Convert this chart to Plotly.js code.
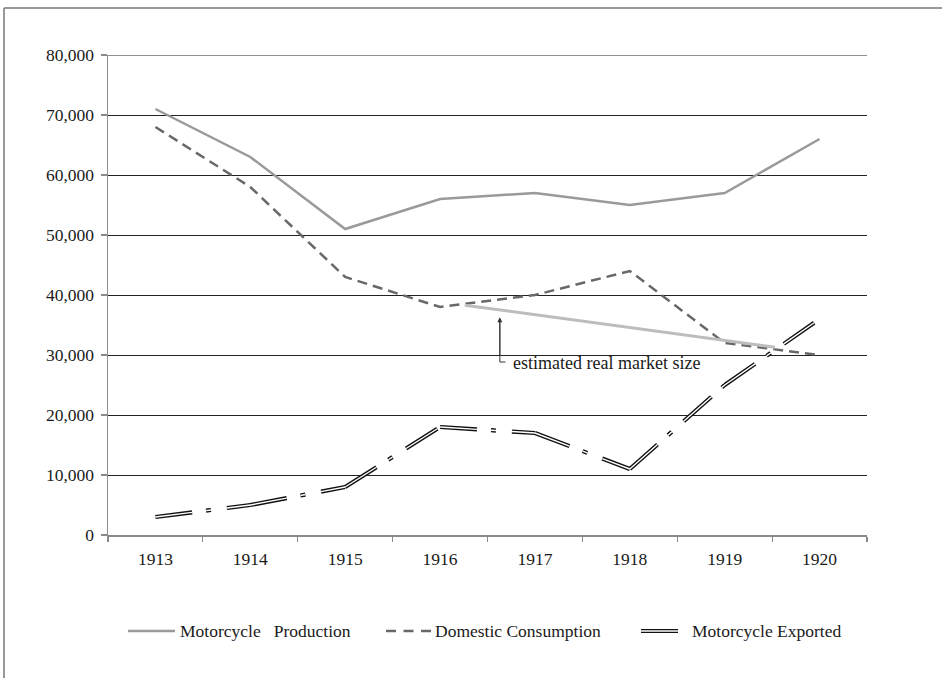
<!DOCTYPE html>
<html>
<head>
<meta charset="utf-8">
<script src="https://cdn.plot.ly/plotly-3.0.1.min.js"></script>
<style>html,body{margin:0;padding:0;background:#fff;}#chart{width:942px;height:678px;}</style>
</head>
<body>
<div id="chart"></div>
<script>
// ---- data ----
var years = [1913, 1914, 1915, 1916, 1917, 1918, 1919, 1920];
var yearLabels = ['1913', '1914', '1915', '1916', '1917', '1918', '1919', '1920'];
var production = [71000, 63000, 51000, 56000, 57000, 55000, 57000, 66000];
var domestic = [68000, 58000, 43000, 38000, 40000, 44000, 32000, 30000];
var exported = [3000, 5000, 8000, 18000, 17000, 11000, 25000, 36000];
var marketYears = [1916.26, 1919.53];
var marketSize = [38300, 31300];
var seriesNames = ['Motorcycle\u00A0\u00A0 Production', 'Domestic Consumption', 'Motorcycle Exported'];
var annotationText = 'estimated real market size';

// ---- styles ----
var FONT = 'Liberation Serif, Times New Roman, serif';
var TEXT = '#1a1a1a';
var exportDash = '37px,14px,5px,16px';

var traces = [];
traces.push({x: years, y: production, type: 'scatter', mode: 'lines', name: seriesNames[0],
  line: {color: '#9a9a9a', width: 2.5}, showlegend: false});
traces.push({x: years, y: domestic, type: 'scatter', mode: 'lines', name: seriesNames[1],
  line: {color: '#686868', width: 2.5, dash: '10px,6px'}, showlegend: false});
traces.push({x: marketYears, y: marketSize, type: 'scatter', mode: 'lines', name: annotationText,
  line: {color: '#bdbdbd', width: 3}, showlegend: false});
// exported: double dash-dot line, pattern restarts at each segment
var i;
for (i = 0; i < years.length - 1; i++) {
  traces.push({x: [years[i], years[i + 1]], y: [exported[i], exported[i + 1]], type: 'scatter', mode: 'lines',
    name: seriesNames[2], line: {color: '#111', width: 4.2, dash: exportDash}, showlegend: false});
}
for (i = 0; i < years.length - 1; i++) {
  traces.push({x: [years[i], years[i + 1]], y: [exported[i], exported[i + 1]], type: 'scatter', mode: 'lines',
    name: seriesNames[2], line: {color: '#fff', width: 1.4, dash: exportDash}, showlegend: false, hoverinfo: 'skip'});
}

var boundaries = [];
for (i = 0; i <= years.length; i++) boundaries.push(years[0] - 0.5 + i);

var legendY = -0.2;
var shapes = [
  // top gridline at the range edge
  {type: 'line', xref: 'paper', yref: 'y', x0: 0, x1: 1, y0: 80000, y1: 80000, line: {color: '#222', width: 1}, layer: 'below'},
  // outer frame (top and left)
  {type: 'line', xref: 'paper', yref: 'paper', x0: -0.137, x1: 1.2, y0: 1.098, y1: 1.098, line: {color: '#777', width: 1.5}},
  {type: 'line', xref: 'paper', yref: 'paper', x0: -0.137, x1: -0.137, y0: 1.098, y1: -0.35, line: {color: '#777', width: 1.5}},
  // legend symbols
  {type: 'line', xref: 'paper', yref: 'paper', x0: 0.0264, x1: 0.0883, y0: legendY, y1: legendY, line: {color: '#9a9a9a', width: 2.5}},
  {type: 'line', xref: 'paper', yref: 'paper', x0: 0.3663, x1: 0.4256, y0: legendY, y1: legendY, line: {color: '#686868', width: 2.5, dash: '10px,7.5px'}},
  {type: 'line', xref: 'paper', yref: 'paper', x0: 0.7022, x1: 0.751, y0: legendY, y1: legendY, line: {color: '#111', width: 4.2}},
  {type: 'line', xref: 'paper', yref: 'paper', x0: 0.7022, x1: 0.751, y0: legendY, y1: legendY, line: {color: '#fff', width: 1.4}},
  // annotation leader (L shape)
  {type: 'path', xref: 'x', yref: 'y', path: 'M 1916.63,35500 L 1916.63,28833 L 1916.69,28833', line: {color: '#333', width: 1}}
];

var annotations = [
  {x: 1916.63, y: 36300, xref: 'x', yref: 'y', text: '', showarrow: true, ax: 0, ay: 40,
    arrowhead: 2, arrowsize: 1, arrowwidth: 1, arrowcolor: '#333'},
  {x: 1916.75, y: 28700, xref: 'x', yref: 'y', text: annotationText, showarrow: false,
    xanchor: 'left', yanchor: 'middle', font: {family: FONT, size: 18, color: TEXT}},
  {x: 0.0922, y: legendY, xref: 'paper', yref: 'paper', text: seriesNames[0], showarrow: false,
    xanchor: 'left', yanchor: 'middle', font: {family: FONT, size: 17.5, color: TEXT}},
  {x: 0.4282, y: legendY, xref: 'paper', yref: 'paper', text: seriesNames[1], showarrow: false,
    xanchor: 'left', yanchor: 'middle', font: {family: FONT, size: 17.5, color: TEXT}},
  {x: 0.7668, y: legendY, xref: 'paper', yref: 'paper', text: seriesNames[2], showarrow: false,
    xanchor: 'left', yanchor: 'middle', font: {family: FONT, size: 17.5, color: TEXT}}
];

var layout = {
  width: 942, height: 678,
  margin: {l: 108, r: 75, t: 55, b: 143, pad: 0},
  paper_bgcolor: '#fff', plot_bgcolor: '#fff',
  font: {family: FONT, size: 17.5, color: TEXT},
  showlegend: false,
  xaxis: {
    type: 'linear', range: [years[0] - 0.5, years[years.length - 1] + 0.5],
    tickmode: 'array', tickvals: years, ticktext: yearLabels, ticks: '',
    ticklabelstandoff: 7,
    showgrid: false, zeroline: false, showline: true, linecolor: '#8a8a8a', linewidth: 1.5,
    tickfont: {family: FONT, size: 17.5, color: TEXT},
    minor: {tickmode: 'array', tickvals: boundaries, ticks: 'outside', ticklen: 5, tickwidth: 1.2, tickcolor: '#8a8a8a', showgrid: false},
    fixedrange: true
  },
  yaxis: {
    range: [0, 80000], dtick: 10000, tick0: 0, tickformat: ',d',
    showgrid: true, gridcolor: '#222', gridwidth: 1, zeroline: false,
    showline: true, linecolor: '#8a8a8a', linewidth: 1.5,
    ticks: 'outside', ticklen: 6, tickwidth: 1.2, tickcolor: '#8a8a8a',
    ticklabelstandoff: 3,
    tickfont: {family: FONT, size: 17.5, color: TEXT},
    fixedrange: true
  },
  shapes: shapes,
  annotations: annotations
};

Plotly.newPlot('chart', traces, layout, {displayModeBar: false, staticPlot: true});
</script>
</body>
</html>
